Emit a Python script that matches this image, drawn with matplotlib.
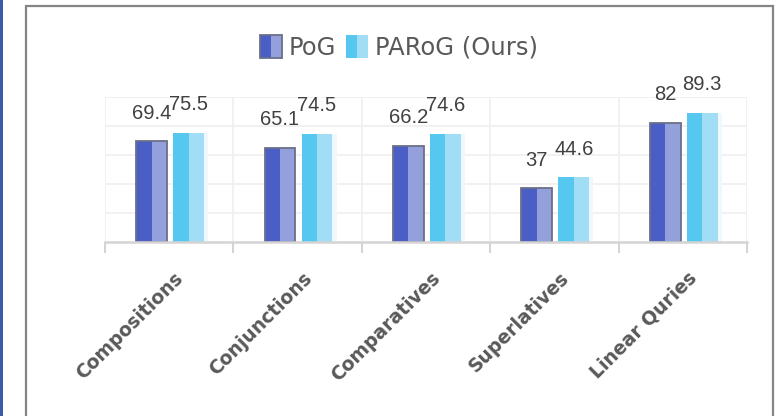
import matplotlib
matplotlib.use("Agg")
import matplotlib.pyplot as plt
from matplotlib.patches import Rectangle
from matplotlib.legend_handler import HandlerBase
from matplotlib.transforms import offset_copy

categories = ["Compositions", "Conjunctions", "Comparatives", "Superlatives", "Linear Quries"]
pog = [69.4, 65.1, 66.2, 37, 82]
parog = [75.5, 74.5, 74.6, 44.6, 89.3]
series_names = ["PoG", "PARoG (Ours)"]
value_labels_pog = ["69.4", "65.1", "66.2", "37", "82"]
value_labels_parog = ["75.5", "74.5", "74.6", "44.6", "89.3"]

POG_DARK, POG_LIGHT, POG_EDGE = "#4b5ec6", "#94a0dc", "#6b6f86"
PAR_DARK, PAR_LIGHT = "#56c8ef", "#a1def5"

W, H = 783, 416
fig = plt.figure(figsize=(W / 100, H / 100), dpi=100)
fig.patch.set_facecolor("white")

# outer decorations
fig.patches.append(Rectangle((0, 0), 3 / W, 1, transform=fig.transFigure,
                             facecolor="#3b5ba5", edgecolor="none", zorder=0))
fig.patches.append(Rectangle((26 / W, -0.05), (773 - 26) / W, 1.05 - 6 / H,
                             transform=fig.transFigure, facecolor="none",
                             edgecolor="#858585", linewidth=1.6, zorder=0))

ax = fig.add_axes([105 / W, 1 - 242 / H, (747 - 105) / W, (242 - 97) / H])
ax.set_xlim(-0.5, len(categories) - 0.5)
ax.set_ylim(0, 100)

bw = 0.12
for i, (a, b) in enumerate(zip(pog, parog)):
    # PoG bar: two halves + edge
    ax.bar(i - 0.257, a, width=bw, align="edge", color=POG_DARK, zorder=3)
    ax.bar(i - 0.137, a, width=bw, align="edge", color=POG_LIGHT, zorder=3)
    ax.bar(i - 0.257, a, width=2 * bw, align="edge", facecolor="none",
           edgecolor=POG_EDGE, linewidth=1.3, zorder=4)
    # PARoG bar
    ax.bar(i + 0.268, b, width=0.035, align="edge", color="#eef8fd", zorder=2)
    ax.bar(i + 0.031, b, width=bw, align="edge", color=PAR_DARK, zorder=3)
    ax.bar(i + 0.151, b, width=bw, align="edge", color=PAR_LIGHT, zorder=3)

    ax.annotate(value_labels_pog[i], (i - 0.137, a), xytext=(0, 13.5),
                textcoords="offset points", ha="center", va="bottom",
                fontsize=14.5, color="#404040", family="Liberation Sans", zorder=5)
    ax.annotate(value_labels_parog[i], (i + 0.151, b), xytext=(0, 13.5),
                textcoords="offset points", ha="center", va="bottom",
                fontsize=14.5, color="#404040", family="Liberation Sans", zorder=5)

# grid
for y in [20, 40, 60, 80, 100]:
    ax.axhline(y, color="#efefef", linewidth=1.2, zorder=1)
for xb in [i - 0.5 for i in range(len(categories) + 1)]:
    ax.axvline(xb, color="#efefef", linewidth=1.2, zorder=1)

for s in ["top", "left", "right"]:
    ax.spines[s].set_visible(False)
ax.spines["bottom"].set_color("#d4d4d4")
ax.spines["bottom"].set_linewidth(1.8)
ax.spines["bottom"].set_zorder(5)

ax.set_yticks([])
ax.set_xticks([i - 0.5 for i in range(len(categories) + 1)])
ax.set_xticklabels([])
ax.tick_params(axis="x", which="major", length=8, width=1.5, color="#d4d4d4")
ax.set_xticks(range(len(categories)), minor=True)
ax.set_xticklabels(categories, minor=True, rotation=45, ha="right",
                   fontsize=13.5, fontweight="bold", color="#595959",
                   family="DejaVu Sans")
ax.tick_params(axis="x", which="minor", length=0, pad=19)
for lbl in ax.get_xticklabels(minor=True):
    lbl.set_transform(offset_copy(lbl.get_transform(), fig=fig, x=18, y=0, units="dots"))


class SplitHandler(HandlerBase):
    def __init__(self, dark, light, edge):
        super().__init__()
        self.dark, self.light, self.edge = dark, light, edge

    def create_artists(self, legend, orig_handle, xdescent, ydescent, width,
                       height, fontsize, trans):
        s = height * 1.3
        x0 = -xdescent + (width - s) / 2
        y0 = -ydescent + (height - s) / 2
        r1 = Rectangle((x0, y0), s / 2, s, facecolor=self.dark, edgecolor="none", transform=trans)
        r2 = Rectangle((x0 + s / 2, y0), s / 2, s, facecolor=self.light, edgecolor="none", transform=trans)
        arts = [r1, r2]
        if self.edge:
            arts.append(Rectangle((x0, y0), s, s, facecolor="none", edgecolor=self.edge,
                                  linewidth=1.3, transform=trans))
        return arts


h1 = Rectangle((0, 0), 1, 1)
h2 = Rectangle((0, 0), 1, 1)
leg = fig.legend([h1, h2], series_names, loc="center", bbox_to_anchor=(399 / W, 1 - 48 / H),
                 ncol=2, frameon=False, fontsize=17.5, handlelength=0.9, handletextpad=0.3,
                 columnspacing=0.4,
                 handler_map={h1: SplitHandler(POG_DARK, POG_LIGHT, POG_EDGE),
                              h2: SplitHandler(PAR_DARK, PAR_LIGHT, None)})
for t in leg.get_texts():
    t.set_color("#595959")

fig.savefig("out.png", dpi=100)
